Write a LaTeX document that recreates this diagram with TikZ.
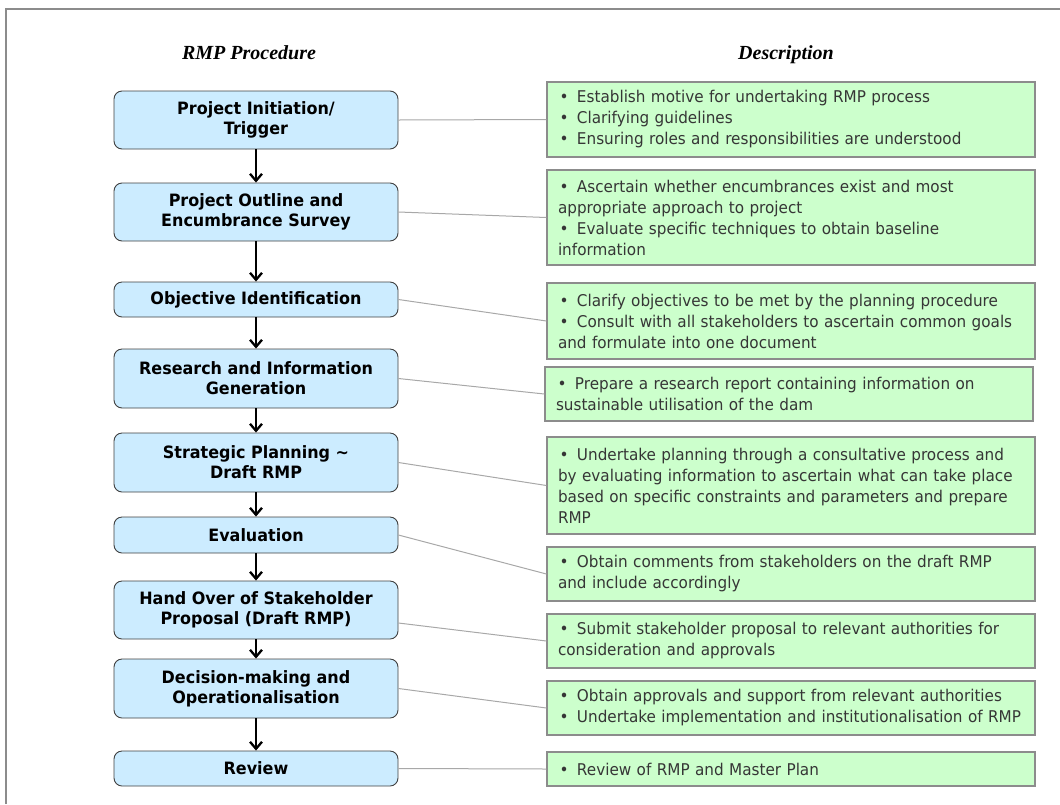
\documentclass[tikz,border=0pt]{standalone}
\usepackage{fontspec}
\setmainfont[FakeStretch=0.94]{DejaVu Sans}
\newfontfamily\headfont{Liberation Serif}
\usetikzlibrary{arrows.meta}
\definecolor{bluefill}{HTML}{CCECFF}
\definecolor{greenfill}{HTML}{CCFFCC}
\definecolor{greentext}{HTML}{363636}
\definecolor{framegray}{HTML}{8C8C8C}
\definecolor{linkgray}{HTML}{A8A8A8}
\newcommand\bitem{\hspace*{1.5pt}\textbullet\hspace{8.5pt}}
\begin{document}
\begin{tikzpicture}[x=1pt,y=-1pt,
  stepnode/.style={draw=black!75, fill=bluefill, rounded corners=8pt, line width=0.9pt,
    minimum width=284pt, align=center, inner sep=0pt,
    font=\fontsize{17}{20}\selectfont\bfseries},
  descbox/.style={draw=framegray, fill=greenfill, line width=1.2pt, minimum width=488pt,
    text width=466pt, inner xsep=11pt, inner ysep=0pt, align=left, text=greentext,
    font=\fontsize{16.2}{21}\selectfont},
  flow/.style={line width=2.3pt, -{Straight Barb[length=7pt,width=12pt]}},
  link/.style={draw=linkgray, line width=1pt},
  header/.style={anchor=base, font=\headfont\fontsize{20}{24}\selectfont\bfseries\itshape}]
\useasboundingbox (0,0) rectangle (1060,804);
\draw[framegray, line width=2pt] (6,804) -- (6,9) -- (1060,9);

\node[header] (h1) at (249,59) {RMP Procedure};
\node[header] (h2) at (786,59) {Description};

\node[stepnode, minimum height=58pt] (b1) at (256,120) {Project Initiation/\\Trigger};
\node[stepnode, minimum height=58pt] (b2) at (256,212) {Project Outline and\\Encumbrance Survey};
\node[stepnode, minimum height=35pt] (b3) at (256,299.5) {Objective Identification};
\node[stepnode, minimum height=59pt] (b4) at (256,378.5) {Research and Information\\Generation};
\node[stepnode, minimum height=59pt] (b5) at (256,462.5) {Strategic Planning \textasciitilde\\Draft RMP};
\node[stepnode, minimum height=36pt] (b6) at (256,535) {Evaluation};
\node[stepnode, minimum height=58pt] (b7) at (256,610) {Hand Over of Stakeholder\\Proposal (Draft RMP)};
\node[stepnode, minimum height=59pt] (b8) at (256,688.5) {Decision-making and\\Operationalisation};
\node[stepnode, minimum height=35pt] (b9) at (256,768.5) {Review};

\node[descbox, minimum height=75pt] (g1) at (791,119.5) {\bitem Establish motive for undertaking RMP process\\\bitem Clarifying guidelines\\\bitem Ensuring roles and responsibilities are understood};
\node[descbox, minimum height=95pt] (g2) at (791,217.5) {\bitem Ascertain whether encumbrances exist and most\\appropriate approach to project\\\bitem Evaluate specific techniques to obtain baseline\\information};
\node[descbox, minimum height=76pt] (g3) at (791,321) {\bitem Clarify objectives to be met by the planning procedure\\\bitem Consult with all stakeholders to ascertain common goals\\and formulate into one document};
\node[descbox, minimum height=54pt] (g4) at (789,394) {\bitem Prepare a research report containing information on\\sustainable utilisation of the dam};
\node[descbox, minimum height=97pt] (g5) at (791,485.5) {\bitem Undertake planning through a consultative process and\\by evaluating information to ascertain what can take place\\based on specific constraints and parameters and prepare\\RMP};
\node[descbox, minimum height=54pt] (g6) at (791,574) {\bitem Obtain comments from stakeholders on the draft RMP\\and include accordingly};
\node[descbox, minimum height=54pt] (g7) at (791,641) {\bitem Submit stakeholder proposal to relevant authorities for\\consideration and approvals};
\node[descbox, minimum height=54pt] (g8) at (791,708) {\bitem Obtain approvals and support from relevant authorities\\\bitem Undertake implementation and institutionalisation of RMP};
\node[descbox, minimum height=34pt] (g9) at (791,769) {\bitem Review of RMP and Master Plan};

\foreach \a/\b in {b1/b2,b2/b3,b3/b4,b4/b5,b5/b6,b6/b7,b7/b8,b8/b9}
  \draw[flow] (\a.south) -- (\b.north);

\foreach \i in {1,2,3,4,5,6,8,9}
  \draw[link] (b\i.east) -- (g\i.west);
\draw[link] ([yshift=-13pt]b7.east) -- (g7.west);
\end{tikzpicture}
\end{document}
